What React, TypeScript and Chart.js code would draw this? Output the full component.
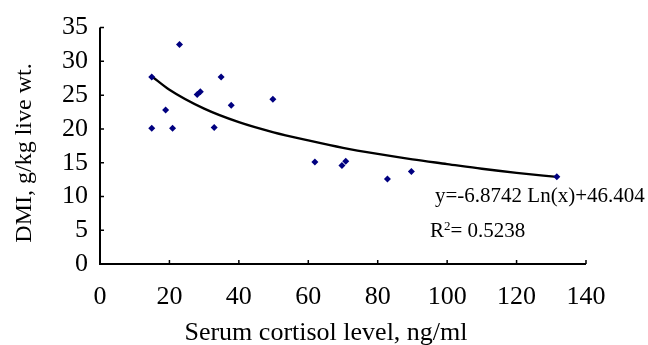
import React, { useEffect, useRef } from "react";
import { Chart, registerables } from "chart.js";

Chart.register(...registerables);

const cortisol = [14.9, 14.9, 18.9, 20.9, 22.9, 28.0, 28.9, 32.9, 34.9, 37.8, 49.8, 61.9, 69.7, 70.8, 82.8, 89.7, 131.6];
const dmi = [27.7, 20.1, 22.8, 20.1, 32.5, 25.1, 25.5, 20.2, 27.7, 23.5, 24.4, 15.1, 14.6, 15.2, 12.6, 13.7, 12.9];

const trendX = [14.9, 20, 30, 40, 50, 60, 70, 80, 90, 100, 110, 120, 131.6];
const trendY = [27.8, 25.8, 23.0, 21.0, 19.5, 18.3, 17.2, 16.3, 15.5, 14.8, 14.1, 13.5, 12.9];

const xTicks = [0, 20, 40, 60, 80, 100, 120, 140];
const yTicks = [0, 5, 10, 15, 20, 25, 30, 35];

const xTitle = "Serum cortisol level, ng/ml";
const yTitle = "DMI, g/kg live wt.";
const equationText = "y=-6.8742 Ln(x)+46.404";
const r2Text = "= 0.5238";

const FONT = "'Liberation Serif', 'Times New Roman', serif";

const axisPlugin = {
  id: "axisPlugin",
  afterDraw(chart: any) {
    const ctx = chart.ctx;
    const xs = chart.scales.x;
    const ys = chart.scales.y;
    const left = xs.getPixelForValue(0);
    const right = xs.getPixelForValue(140);
    const bottom = ys.getPixelForValue(0);
    const top = ys.getPixelForValue(35);
    ctx.save();
    ctx.strokeStyle = "#000";
    ctx.lineWidth = 2;
    ctx.beginPath();
    ctx.moveTo(left, top);
    ctx.lineTo(left, bottom);
    ctx.lineTo(right, bottom);
    ctx.stroke();
    ctx.lineWidth = 1.5;
    ctx.beginPath();
    for (const v of xTicks) {
      const px = xs.getPixelForValue(v);
      ctx.moveTo(px, bottom);
      ctx.lineTo(px, bottom - 4);
    }
    for (const v of yTicks) {
      const py = ys.getPixelForValue(v);
      ctx.moveTo(left, py);
      ctx.lineTo(left + 4, py);
    }
    ctx.stroke();

    ctx.fillStyle = "#000";
    // axis titles
    ctx.textBaseline = "alphabetic";
    ctx.textAlign = "center";
    ctx.font = `26px ${FONT}`;
    ctx.fillText(xTitle, 326, 340);
    ctx.save();
    ctx.translate(31, 153);
    ctx.rotate(-Math.PI / 2);
    ctx.font = `24px ${FONT}`;
    ctx.fillText(yTitle, 0, 0);
    ctx.restore();

    // trendline annotation
    ctx.textAlign = "left";
    ctx.font = `21px ${FONT}`;
    ctx.fillText(equationText, 435, 202);
    ctx.fillText("R", 430, 237);
    const rw = ctx.measureText("R").width;
    ctx.font = `13px ${FONT}`;
    ctx.fillText("2", 430 + rw, 230);
    const sw = ctx.measureText("2").width;
    ctx.font = `21px ${FONT}`;
    ctx.fillText(r2Text, 430 + rw + sw, 237);
    ctx.restore();
  },
};

export default function App() {
  const ref = useRef<HTMLCanvasElement | null>(null);

  useEffect(() => {
    if (!ref.current) return;
    const chart = new Chart(ref.current, {
      type: "scatter",
      data: {
        datasets: [
          {
            label: "DMI",
            data: cortisol.map((x, i) => ({ x, y: dmi[i] })),
            pointStyle: "rectRot",
            pointRadius: 3.5,
            backgroundColor: "#000080",
            borderColor: "#000080",
            borderWidth: 0,
          },
          {
            label: "Trend",
            data: trendX.map((x, i) => ({ x, y: trendY[i] })),
            showLine: true,
            pointRadius: 0,
            borderColor: "#000",
            borderWidth: 2.3,
            cubicInterpolationMode: "monotone",
          },
        ],
      },
      options: {
        responsive: false,
        animation: false,
        events: [],
        layout: { padding: { left: 0, top: 26, right: 62, bottom: 0 } },
        plugins: { legend: { display: false }, tooltip: { enabled: false } },
        scales: {
          x: {
            type: "linear",
            min: 0,
            max: 140,
            grid: { display: false, drawTicks: false },
            border: { display: false },
            ticks: {
              stepSize: 20,
              padding: 18,
              autoSkip: false,
              color: "#000",
              font: { family: FONT, size: 26 },
              maxRotation: 0,
            },
            afterFit: (s: any) => {
              s.height = 81;
            },
          },
          y: {
            type: "linear",
            min: 0,
            max: 35,
            grid: { display: false, drawTicks: false },
            border: { display: false },
            ticks: {
              stepSize: 5,
              padding: 12,
              autoSkip: false,
              color: "#000",
              font: { family: FONT, size: 26 },
            },
            afterFit: (s: any) => {
              s.width = 100;
            },
          },
        },
      },
      plugins: [axisPlugin],
    } as any);
    return () => chart.destroy();
  }, []);

  return (
    <div style={{ position: "fixed", left: 0, top: 0, width: 648, height: 345, background: "#fff" }}>
      <canvas ref={ref} width={648} height={345} style={{ display: "block" }} />
    </div>
  );
}
